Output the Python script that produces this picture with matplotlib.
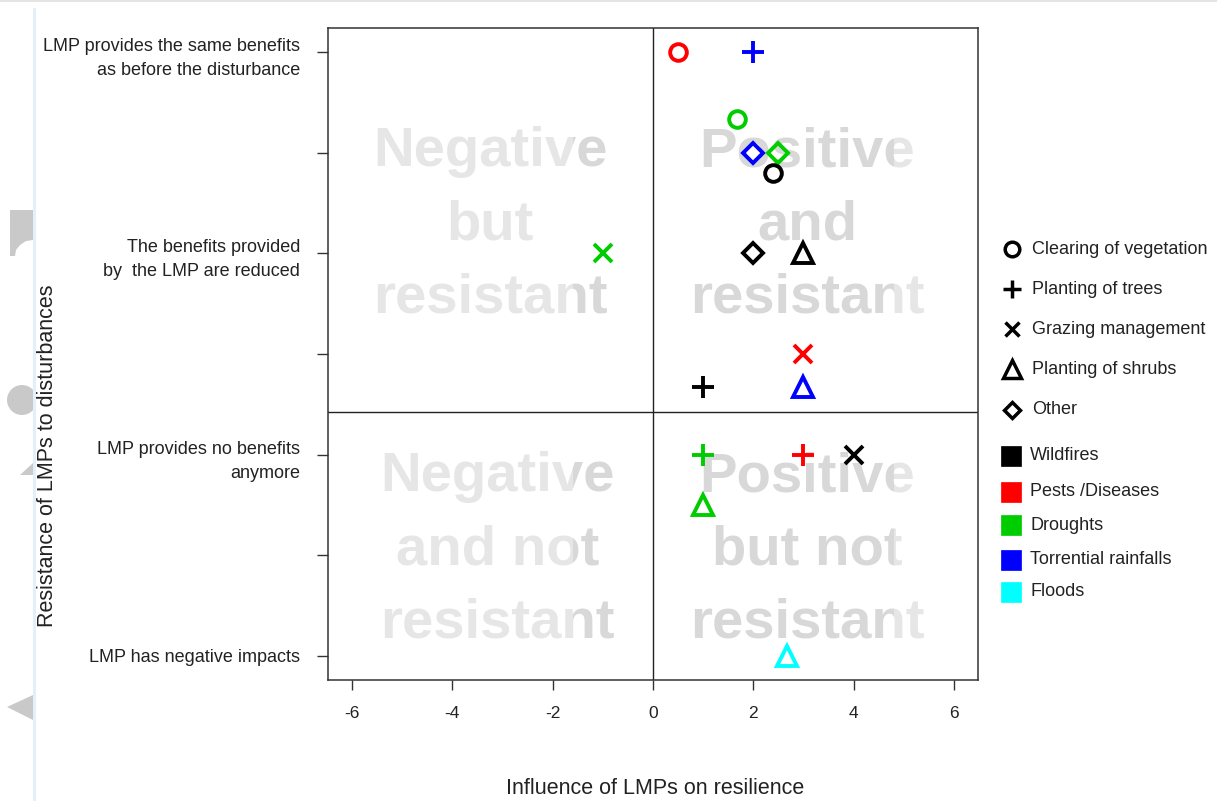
import matplotlib
matplotlib.use("Agg")
import matplotlib.pyplot as plt
from matplotlib.patches import Rectangle, Polygon, Circle
from matplotlib.transforms import blended_transform_factory

plt.rcParams['font.family'] = ['Liberation Sans', 'DejaVu Sans']

# ---------------- data ----------------
x_vals = [0.5, 2.0, 1.67, 2.0, 2.5, 2.4, -1.0, 2.0, 3.0, 3.0, 1.0, 3.0, 1.0, 3.0, 4.0, 1.0, 2.67]
y_vals = [6.0, 6.0, 5.34, 5.0, 5.0, 4.8, 4.0, 4.0, 4.0, 3.0, 2.67, 2.67, 2.0, 2.0, 2.0, 1.5, 0.0]
practice = ["Clearing of vegetation", "Planting of trees", "Clearing of vegetation", "Other", "Other",
            "Clearing of vegetation", "Grazing management", "Other", "Planting of shrubs",
            "Grazing management", "Planting of trees", "Planting of shrubs", "Planting of trees",
            "Planting of trees", "Grazing management", "Planting of shrubs", "Planting of shrubs"]
disturbance = ["Pests /Diseases", "Torrential rainfalls", "Droughts", "Torrential rainfalls", "Droughts",
               "Wildfires", "Droughts", "Wildfires", "Wildfires", "Pests /Diseases", "Wildfires",
               "Torrential rainfalls", "Droughts", "Pests /Diseases", "Wildfires", "Droughts", "Floods"]

practices = ["Clearing of vegetation", "Planting of trees", "Grazing management", "Planting of shrubs", "Other"]
disturbances = ["Wildfires", "Pests /Diseases", "Droughts", "Torrential rainfalls", "Floods"]
y_tick_vals = [6, 4, 2, 0]
y_tick_labels = ["LMP provides the same benefits\nas before the disturbance",
                 "The benefits provided\nby  the LMP are reduced",
                 "LMP provides no benefits\nanymore",
                 "LMP has negative impacts"]
x_ticks = [-6, -4, -2, 0, 2, 4, 6]
h_line = 2.42
quadrant_texts = [(-3.25, 4.28, "Negative\nbut\nresistant"),
                  (3.08, 4.28, "Positive\nand\nresistant"),
                  (-3.1, 1.05, "Negative\nand not\nresistant"),
                  (3.08, 1.05, "Positive\nbut not\nresistant")]

# ---------------- styles ----------------
marker_of = {"Clearing of vegetation": "o", "Planting of trees": "+", "Grazing management": "x",
             "Planting of shrubs": "^", "Other": "D"}
msize_of = {"o": 12.0, "+": 16.5, "x": 13.0, "^": 14.5, "D": 9.8}
lmsize_of = {"o": 10.5, "+": 13.0, "x": 10.0, "^": 12.5, "D": 8.0}
color_of = {"Wildfires": "#000000", "Pests /Diseases": "#FF0000", "Droughts": "#00CD00",
            "Torrential rainfalls": "#0000FF", "Floods": "#00FFFF"}

W, H = 1217, 801
fig = plt.figure(figsize=(W / 100, H / 100), dpi=100)
fig.patch.set_facecolor("white")

# decorative page artefacts (pixel overlay)
lax = fig.add_axes([0, 0, 1, 1])
lax.set_xlim(0, W)
lax.set_ylim(H, 0)
lax.axis("off")
lax.add_patch(Rectangle((0, 0), W, 2, color="#e4e4e4", lw=0))
lax.add_patch(Rectangle((33, 8), 3, H, color="#e6eef9", lw=0))
lax.add_patch(Polygon([(10, 210), (33, 210), (33, 240), (26, 241), (20, 245), (16, 250), (15, 256), (10, 256)],
                      closed=True, color="#c9c9c9", lw=0))
lax.add_patch(Circle((22, 400), 15, color="#c9c9c9", lw=0))
lax.add_patch(Rectangle((33, 370), 10, 60, color="white", lw=0))
lax.add_patch(Rectangle((33, 370), 3, 60, color="#e6eef9", lw=0))
lax.add_patch(Polygon([(33, 463), (33, 475), (20, 475)], closed=True, color="#c9c9c9", lw=0))
lax.add_patch(Polygon([(33, 695), (33, 720), (7, 707)], closed=True, color="#c9c9c9", lw=0))

ax = fig.add_axes([328 / W, 1 - 680 / H, (978 - 328) / W, (680 - 28) / H])
ax.set_xlim(-6.48, 6.48)
ax.set_ylim(-0.24, 6.24)

# quadrant background words
for qx, qy, txt in quadrant_texts:
    ax.text(qx, qy, txt, ha="center", va="center", fontsize=40.5, fontweight="bold",
            color="#d8d8d8", linespacing=1.52, zorder=1)
# lighter veil over the outer parts of the words
ytr_ax = blended_transform_factory(ax.transData, ax.transAxes)
ax.add_patch(Rectangle((-6.6, 0), 6.6 - 1.6, 1, transform=ytr_ax, facecolor="white",
                       alpha=0.37, lw=0, zorder=1.5))
ax.add_patch(Rectangle((4.8, 0), 1.9, 1, transform=ytr_ax, facecolor="white",
                       alpha=0.37, lw=0, zorder=1.5))

ax.axvline(0, color="#222222", lw=1.0, zorder=2)
ax.axhline(h_line, color="#222222", lw=1.0, zorder=2)

for x, y, p, d in zip(x_vals, y_vals, practice, disturbance):
    m = marker_of[p]
    ax.plot([x], [y], linestyle="none", marker=m, markersize=msize_of[m],
            markerfacecolor="none", markeredgecolor=color_of[d], markeredgewidth=2.8,
            zorder=3, clip_on=False)

for s in ax.spines.values():
    s.set_color("#333333")
    s.set_linewidth(1.1)
    s.set_zorder(4)

ax.set_xticks(x_ticks)
ax.set_xticklabels([str(v) for v in x_ticks])
ax.set_yticks(range(0, 7))
ax.set_yticklabels([])
ax.tick_params(axis="x", length=7.5, width=1.0, color="#333333", pad=11, labelsize=12.5, labelcolor="#222222")
ax.tick_params(axis="y", length=8, width=1.0, color="#333333")

ytr = blended_transform_factory(ax.transAxes, ax.transData)
for v, lab in zip(y_tick_vals, y_tick_labels):
    off = 0.065 if "\n" in lab else 0.02
    ax.text(-0.0431, v - off, lab, transform=ytr, ha="right", va="center", multialignment="right",
            fontsize=13, color="#222222", linespacing=1.55, clip_on=False)

fig.text(655 / W, 1 - 788 / H, "Influence of LMPs on resilience", ha="center", va="center",
         fontsize=15.5, color="#222222")
fig.text(48 / W, 1 - 456 / H, "Resistance of LMPs to disturbances", ha="center", va="center",
         rotation=90, fontsize=15.5, color="#222222")

# legend (manual, in pixel overlay)
shape_rows = [249, 289, 329, 369, 410]
for p, yy in zip(practices, shape_rows):
    m = marker_of[p]
    lax.plot([1012], [yy], linestyle="none", marker=m, markersize=lmsize_of[m],
             markerfacecolor="none", markeredgecolor="black", markeredgewidth=2.5)
    lax.text(1032, yy, p, ha="left", va="center", fontsize=13, color="#222222")
color_rows = [456, 492, 525, 560, 592]
for d, yy in zip(disturbances, color_rows):
    lax.plot([1011], [yy], linestyle="none", marker="s", markersize=14.5,
             markerfacecolor=color_of[d], markeredgecolor=color_of[d], markeredgewidth=0.5)
    lax.text(1030, yy, d, ha="left", va="center", fontsize=13, color="#222222")

fig.savefig("out.png", dpi=100, facecolor="white")
